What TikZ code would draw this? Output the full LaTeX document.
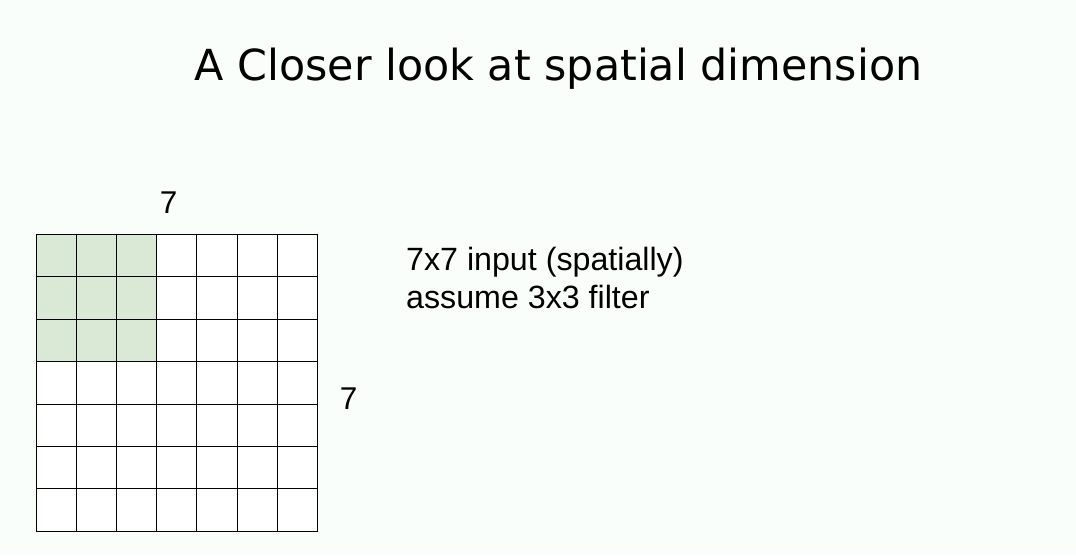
\documentclass[tikz,border=0pt]{standalone}
\usepackage{fontspec}
\setmainfont{Liberation Sans}
\newfontfamily\titlefont{DejaVu Sans}
\usetikzlibrary{positioning}
\definecolor{Paper}{HTML}{FAFEFA}
\definecolor{Sage}{HTML}{DAE9D5}

\begin{document}
\begin{tikzpicture}[
  x=1pt,y=-1pt,
  cell/.style={
    draw=black,
    thick,
    fill=white,
    minimum width=40.2pt,
    minimum height=42.4pt,
    inner sep=0pt,
    outer sep=0pt
  },
  filtercell/.style={cell,fill=Sage},
  caption/.style={font=\fontsize{32.2}{38}\selectfont,align=left,anchor=base west,inner sep=0pt},
  dimlabel/.style={font=\fontsize{31.5}{31.5}\selectfont,anchor=base,inner sep=0pt}
]
\fill[Paper] (0,0) rectangle (1076,555);
\useasboundingbox (0,0) rectangle (1076,555);
\node[anchor=base,inner sep=0pt,font=\titlefont\fontsize{42.8}{42.8}\selectfont]
  (title) at (558.5,80) {A Closer look at spatial dimension};
% 7x7 input grid, the first 3x3 window shaded
\foreach \r in {1,...,7}
  \foreach \c in {1,...,7}{
    \ifnum\r<4 \ifnum\c<4
      \node[filtercell] (c-\r-\c) at ({36+(\c-0.5)*40.2},{234.3+(\r-0.5)*42.4}) {};
    \else
      \node[cell] (c-\r-\c) at ({36+(\c-0.5)*40.2},{234.3+(\r-0.5)*42.4}) {};
    \fi\else
      \node[cell] (c-\r-\c) at ({36+(\c-0.5)*40.2},{234.3+(\r-0.5)*42.4}) {};
    \fi
  }
\node[dimlabel] (width) at (168.7,213) {7};
\node[dimlabel] (height) at (348.7,409) {7};
\node[caption] (info) at (406,308) {7x7 input (spatially)\\assume 3x3 filter};
\end{tikzpicture}
\end{document}
